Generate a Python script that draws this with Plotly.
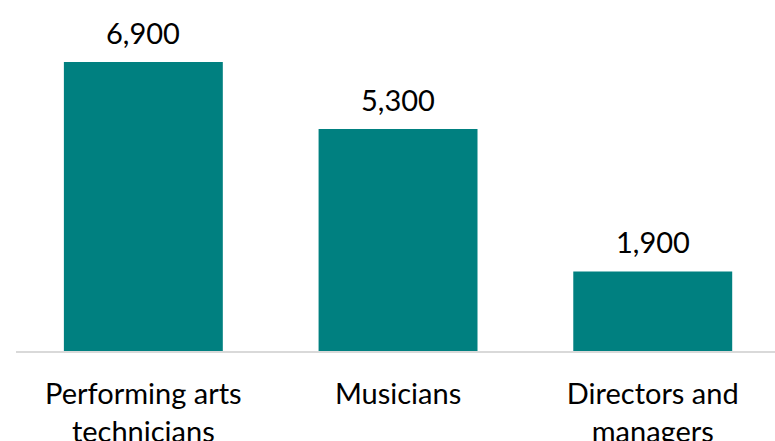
import plotly.graph_objects as go

categories = ["Performing arts<br>technicians", "Musicians", "Directors and<br>managers"]
values = [6900, 5300, 1900]
value_labels = ["6,900", "5,300", "1,900"]

FONT = "Lato"
SIZE = 29
fig = go.Figure(go.Bar(
    x=[0, 1, 2], y=values, width=0.624,
    marker=dict(color="#008080", line=dict(width=0)),
))
for i, (v, t) in enumerate(zip(values, value_labels)):
    fig.add_annotation(x=i, y=v, text=t, showarrow=False, yanchor="middle", yshift=30,
                       font=dict(family=FONT, size=SIZE, color="#000000"))
fig.update_layout(
    width=775, height=441,
    margin=dict(l=16, r=0, t=16, b=90),
    paper_bgcolor="white", plot_bgcolor="white",
    showlegend=False,
    xaxis=dict(range=[-0.5, 2.48], tickvals=[0, 1, 2], ticktext=categories, automargin=False,
               showgrid=False, zeroline=False, showline=True, linecolor="#d9d9d9", linewidth=2,
               ticks="", tickfont=dict(family=FONT, size=SIZE, color="#000000"), ticklabelstandoff=16),
    yaxis=dict(range=[0, 8000], visible=False, showgrid=False, zeroline=False, automargin=False),
)
fig.write_html("out.html")
